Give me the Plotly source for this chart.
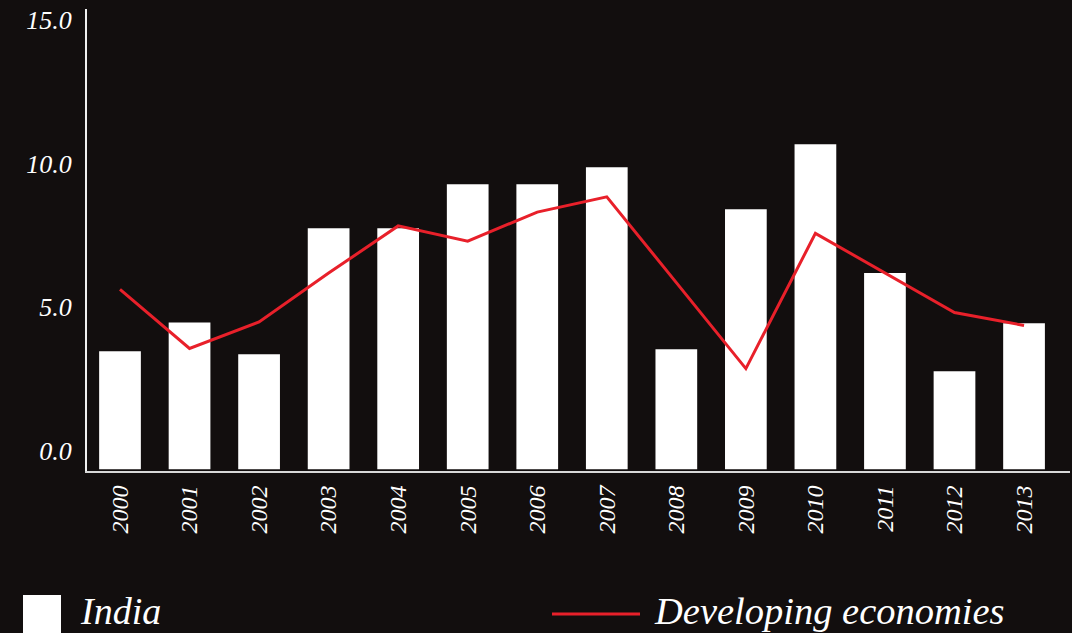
import plotly.graph_objects as go

years = ["2000", "2001", "2002", "2003", "2004", "2005", "2006",
         "2007", "2008", "2009", "2010", "2011", "2012", "2013"]
india = [4.10, 5.10, 4.00, 8.38, 8.38, 9.91, 9.91,
         10.50, 4.17, 9.04, 11.30, 6.82, 3.41, 5.08]
developing = [6.25, 4.20, 5.12, 6.82, 8.46, 7.93, 8.94,
              9.47, 6.49, 3.50, 8.20, 6.82, 5.45, 5.00]
y_ticks = [0, 5, 10, 15]
y_tick_text = ["0.0", "5.0", "10.0", "15.0"]
legend_names = ["India", "Developing economies"]

BG = "#120e0e"
RED = "#e8202a"
FONT = "Liberation Serif"

fig = go.Figure()
fig.add_trace(go.Bar(x=years, y=india, marker=dict(color="#ffffff", line=dict(width=0)),
                     width=0.6, name=legend_names[0], showlegend=False))
fig.add_trace(go.Scatter(x=years, y=developing, mode="lines",
                         line=dict(color=RED, width=3), name=legend_names[1],
                         showlegend=False))

# manual legend
fig.add_shape(type="rect", xref="paper", yref="paper",
              x0=(23 - 87) / 983, x1=(61 - 87) / 983,
              y0=(471 - 595) / 462, y1=(471 - 640) / 462,
              fillcolor="#ffffff", line=dict(width=0))
fig.add_annotation(xref="paper", yref="paper", x=(78 - 87) / 983, y=(471 - 611) / 462,
                   text="<i>" + legend_names[0] + "</i>", showarrow=False,
                   xanchor="left", yanchor="middle",
                   font=dict(family=FONT, size=38, color="#ffffff"))
fig.add_shape(type="line", xref="paper", yref="paper",
              x0=(552 - 87) / 983, x1=(640 - 87) / 983,
              y0=(471 - 614) / 462, y1=(471 - 614) / 462,
              line=dict(color=RED, width=3))
fig.add_annotation(xref="paper", yref="paper", x=(652 - 87) / 983, y=(471 - 611) / 462,
                   text="<i>" + legend_names[1] + "</i>", showarrow=False,
                   xanchor="left", yanchor="middle",
                   font=dict(family=FONT, size=38.5, color="#ffffff"))

fig.update_layout(
    width=1072, height=633,
    margin=dict(l=87, r=2, t=9, b=162),
    paper_bgcolor=BG, plot_bgcolor=BG,
    bargap=0.4,
    font=dict(family=FONT, color="#ffffff"),
    xaxis=dict(type="category", range=[-0.4746, 13.661],
               showline=True, linecolor="#d8d8d8", linewidth=2,
               showgrid=False, zeroline=False, tickangle=-90,
               ticks="outside", ticklen=3, tickcolor=BG,
               tickfont=dict(family=FONT, size=24, color="#ffffff"),
               tickprefix="<i>", ticksuffix="</i>"),
    yaxis=dict(range=[-0.06, 16.0], tickvals=y_ticks, ticktext=["<i>" + t + "</i>" for t in y_tick_text],
               showline=True, linecolor="#f0f0f0", linewidth=2,
               showgrid=False, zeroline=False,
               ticks="", ticklabelstandoff=8,
               ticklabelposition="outside top",
               tickfont=dict(family=FONT, size=26, color="#ffffff")),
)

fig.write_html("out.html", config={"displayModeBar": False},
               post_script="document.body.style.margin='0';document.body.style.background='" + BG + "';")
